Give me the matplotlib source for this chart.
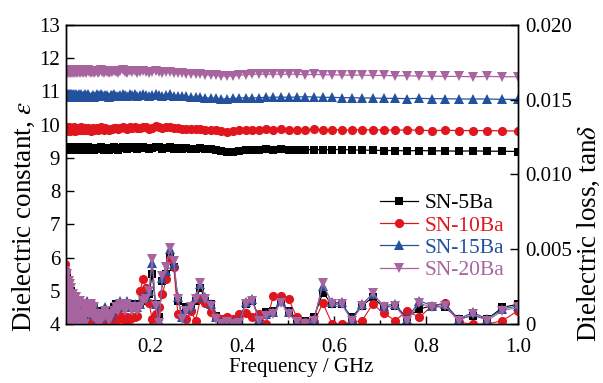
import numpy as np
import matplotlib
matplotlib.use("Agg")
import matplotlib.pyplot as plt
from matplotlib.ticker import MultipleLocator, FixedLocator

plt.rcParams['font.family'] = ['Liberation Serif', 'DejaVu Serif']
plt.rcParams['mathtext.fontset'] = 'stix'

# Frequency sweep (GHz): 201-point logarithmic sweep 1 MHz - 1 GHz, visible part
freq = np.logspace(-3, 0, 201)[78:]

labels = ['SN-5Ba', 'SN-10Ba', 'SN-15Ba', 'SN-20Ba']
colors = ['#000000', '#e0161e', '#23519e', '#a8649e']
markers = ['s', 'o', '^', 'v']

# Dielectric constant (left axis)
eps_5 = [9.31, 9.25, 9.34, 9.27, 9.32, 9.24, 9.29, 9.34, 9.26, 9.30,
         9.33, 9.25, 9.29, 9.34, 9.27, 9.24, 9.32, 9.29, 9.25, 9.33,
         9.27, 9.32, 9.25, 9.30, 9.34, 9.27, 9.24, 9.30, 9.33, 9.26,
         9.30, 9.27, 9.33, 9.25, 9.29, 9.34, 9.27, 9.25, 9.30, 9.32,
         9.27, 9.25, 9.30, 9.33, 9.27, 9.24, 9.28, 9.31, 9.25, 9.28,
         9.31, 9.26, 9.28, 9.33, 9.28, 9.25, 9.30, 9.28, 9.24, 9.29,
         9.30, 9.33, 9.27, 9.25, 9.30, 9.34, 9.29, 9.27, 9.32, 9.29,
         9.32, 9.27, 9.29, 9.34, 9.31, 9.27, 9.29, 9.32, 9.33, 9.28,
         9.31, 9.33, 9.28, 9.30, 9.27, 9.29, 9.26, 9.28, 9.29, 9.26,
         9.26, 9.24, 9.20, 9.18, 9.17, 9.21, 9.24, 9.24, 9.25, 9.26,
         9.25, 9.26, 9.25, 9.24, 9.25, 9.25, 9.24, 9.25, 9.25, 9.24,
         9.23, 9.23, 9.22, 9.22, 9.21, 9.22, 9.21, 9.21, 9.20, 9.21,
         9.20, 9.20, 9.19]
eps_10 = [9.89, 9.83, 9.92, 9.85, 9.90, 9.82, 9.88, 9.92, 9.84, 9.88,
          9.91, 9.83, 9.87, 9.92, 9.85, 9.82, 9.90, 9.87, 9.83, 9.91,
          9.85, 9.90, 9.83, 9.88, 9.92, 9.85, 9.82, 9.88, 9.91, 9.84,
          9.88, 9.85, 9.91, 9.83, 9.87, 9.92, 9.85, 9.83, 9.88, 9.90,
          9.85, 9.83, 9.88, 9.91, 9.85, 9.82, 9.86, 9.89, 9.83, 9.86,
          9.90, 9.85, 9.87, 9.92, 9.87, 9.84, 9.89, 9.87, 9.83, 9.88,
          9.88, 9.91, 9.89, 9.86, 9.90, 9.94, 9.89, 9.88, 9.93, 9.90,
          9.94, 9.90, 9.89, 9.94, 9.92, 9.88, 9.91, 9.95, 9.92, 9.90,
          9.94, 9.92, 9.90, 9.90, 9.88, 9.88, 9.86, 9.88, 9.87, 9.85,
          9.85, 9.84, 9.80, 9.79, 9.81, 9.83, 9.84, 9.83, 9.85, 9.86,
          9.85, 9.86, 9.85, 9.84, 9.85, 9.86, 9.85, 9.85, 9.84, 9.84,
          9.85, 9.84, 9.84, 9.83, 9.84, 9.83, 9.82, 9.83, 9.82, 9.82,
          9.82, 9.81, 9.81]
eps_15 = [10.90, 10.84, 10.93, 10.86, 10.91, 10.83, 10.89, 10.93, 10.85, 10.89,
          10.92, 10.84, 10.88, 10.93, 10.86, 10.83, 10.91, 10.88, 10.84, 10.92,
          10.86, 10.91, 10.84, 10.89, 10.93, 10.86, 10.83, 10.89, 10.92, 10.85,
          10.89, 10.86, 10.92, 10.84, 10.88, 10.93, 10.86, 10.84, 10.89, 10.91,
          10.86, 10.84, 10.89, 10.92, 10.86, 10.83, 10.87, 10.90, 10.84, 10.87,
          10.91, 10.86, 10.88, 10.93, 10.88, 10.85, 10.90, 10.88, 10.84, 10.89,
          10.89, 10.92, 10.87, 10.85, 10.90, 10.93, 10.88, 10.86, 10.92, 10.88,
          10.91, 10.86, 10.89, 10.93, 10.90, 10.86, 10.89, 10.92, 10.88, 10.87,
          10.90, 10.91, 10.87, 10.87, 10.85, 10.85, 10.83, 10.83, 10.82, 10.81,
          10.80, 10.79, 10.78, 10.77, 10.79, 10.80, 10.81, 10.80, 10.81, 10.82,
          10.82, 10.83, 10.82, 10.83, 10.84, 10.83, 10.82, 10.82, 10.81, 10.81,
          10.80, 10.80, 10.79, 10.79, 10.78, 10.79, 10.78, 10.78, 10.77, 10.77,
          10.77, 10.76, 10.76]
eps_20 = [11.61, 11.55, 11.64, 11.57, 11.62, 11.54, 11.60, 11.64, 11.56, 11.60,
          11.63, 11.55, 11.59, 11.64, 11.57, 11.54, 11.62, 11.59, 11.55, 11.63,
          11.57, 11.62, 11.55, 11.60, 11.64, 11.57, 11.54, 11.60, 11.63, 11.56,
          11.60, 11.57, 11.63, 11.55, 11.59, 11.64, 11.57, 11.55, 11.60, 11.62,
          11.57, 11.55, 11.60, 11.63, 11.57, 11.54, 11.58, 11.61, 11.55, 11.58,
          11.61, 11.56, 11.58, 11.63, 11.58, 11.55, 11.60, 11.58, 11.54, 11.59,
          11.59, 11.62, 11.57, 11.55, 11.60, 11.63, 11.58, 11.56, 11.61, 11.58,
          11.60, 11.55, 11.58, 11.61, 11.59, 11.55, 11.57, 11.60, 11.57, 11.55,
          11.58, 11.58, 11.55, 11.55, 11.56, 11.53, 11.53, 11.51, 11.51, 11.49,
          11.49, 11.48, 11.46, 11.45, 11.47, 11.48, 11.50, 11.51, 11.52, 11.51,
          11.52, 11.51, 11.52, 11.51, 11.50, 11.51, 11.50, 11.50, 11.49, 11.49,
          11.49, 11.48, 11.48, 11.47, 11.47, 11.46, 11.46, 11.45, 11.45, 11.44,
          11.45, 11.44, 11.44]

# Dielectric loss tan(delta), in units of 1e-3 (right axis)
tan_5 = [3.33, 2.44, 1.56, 2.89, 2.22, 0.89, 2.67, 1.56, 3.11, 1.11,
         2.00, 0.67, 2.67, 1.78, 0.44, 2.44, 1.33, 1.78, 0.22, 2.22,
         1.11, 0.89, 1.78, 0.44, 1.33, 1.11, 0.22, 1.56, 0.89, 1.11,
         0.67, 1.33, 0.22, 1.33, 0.89, 0.44, 1.11, 0.67, 1.33, 0.22,
         0.67, 1.11, 1.33, 1.33, 0.89, 1.11, 1.11, 0.67, 1.11, 0.89,
         0.44, 0.22, 0.67, 0.44, 0.89, 0.67, 0.89, 0.89, 0.44, 0.67,
         0.89, 1.11, 1.33, 1.11, 1.33, 1.33, 1.11, 1.33, 1.33, 1.11,
         1.33, 1.11, 1.33, 1.56, 1.78, 2.00, 3.33, 1.33, 0.44, 2.89,
         3.33, 4.44, 3.78, 1.56, 0.67, 1.11, 1.22, 1.56, 2.44, 1.56,
         1.33, 0.56, 0.22, 0.33, 0.22, 0.22, 1.33, 1.56, 0.44, 0.78,
         0.89, 1.44, 0.89, 0.33, 0.22, 0.44, 2.09, 1.33, 1.33, 0.44,
         1.22, 1.78, 1.11, 1.22, 0.44, 1.00, 1.22, 1.11, 0.33, 0.56,
         0.33, 1.11, 1.33]
tan_10 = [4.00, 3.33, 2.00, 3.56, 1.78, 2.44, 1.56, 2.22, 1.33, 2.00,
          1.78, 1.11, 2.00, 1.56, 1.33, 1.78, 1.11, 1.56, 0.89, 1.78,
          1.33, 1.78, 1.11, 1.56, 1.33, 0.89, 1.56, 1.11, 1.33, 0.89,
          1.11, 0.67, 0.89, 0.44, 0.67, 0.89, 0.44, 0.67, 0.22, 0.44,
          0.22, 0.44, 0.33, 0.22, 0.44, 0.33, 0.22, 0.11, 0.33, 0.22,
          0.11, 0.22, 0.00, 0.11, 0.22, 0.33, 0.22, 0.11, 0.22, 0.44,
          0.33, 0.22, 0.44, 0.33, 0.56, 0.44, 0.22, 0.44, 0.33, 0.44,
          0.44, 0.56, 2.22, 3.02, 2.44, 1.40, 0.33, 0.67, 1.11, 2.00,
          3.02, 4.36, 3.78, 0.67, 0.44, 0.33, 0.89, 0.22, 1.67, 1.40,
          0.78, 0.44, 0.33, 0.44, 0.33, 0.67, 0.73, 0.44, 0.67, 0.00,
          1.89, 1.89, 1.67, 0.44, 0.11, 0.11, 1.40, 0.00, 0.00, 0.11,
          0.22, 1.33, 0.73, 0.22, 0.89, 0.44, 1.22, 1.40, 0.11, 0.00,
          0.00, 0.22, 0.89]
tan_15 = [3.11, 2.89, 1.11, 3.33, 1.78, 0.89, 2.67, 2.00, 3.11, 1.11,
          2.00, 0.67, 2.67, 1.33, 0.44, 2.44, 1.33, 1.78, 0.22, 2.22,
          1.56, 0.44, 1.78, 0.44, 1.33, 1.11, 0.22, 1.56, 0.89, 1.11,
          0.67, 1.33, 0.22, 1.33, 0.89, 0.44, 1.11, 0.67, 1.33, 0.22,
          0.67, 1.11, 1.56, 1.33, 0.89, 1.11, 1.11, 0.67, 1.33, 0.89,
          0.44, 0.22, 0.67, 0.44, 0.89, 0.67, 1.11, 0.89, 0.44, 0.67,
          0.89, 1.11, 1.33, 1.11, 1.56, 1.33, 1.11, 1.56, 1.33, 1.11,
          1.33, 1.11, 1.33, 1.78, 1.78, 2.22, 4.11, 1.33, 0.22, 3.11,
          3.56, 5.00, 4.00, 1.78, 0.44, 1.00, 1.22, 1.78, 2.67, 1.78,
          1.33, 0.44, 0.11, 0.22, 0.11, 0.22, 1.44, 1.67, 0.33, 0.67,
          0.78, 1.56, 0.78, 0.22, 0.11, 0.33, 2.56, 1.44, 1.44, 0.33,
          1.33, 2.00, 1.22, 1.33, 0.33, 1.56, 1.22, 1.33, 0.33, 0.78,
          0.33, 1.00, 1.22]
tan_20 = [3.56, 2.67, 1.33, 3.11, 2.00, 0.67, 2.89, 1.78, 3.33, 0.89,
          2.22, 0.44, 2.89, 1.56, 0.22, 2.67, 1.11, 2.00, 0.00, 2.44,
          1.33, 0.67, 2.00, 0.22, 1.56, 0.89, 0.00, 1.78, 0.67, 1.33,
          0.44, 1.11, 0.00, 1.56, 0.67, 0.22, 1.33, 0.44, 1.11, 0.00,
          0.44, 0.89, 1.33, 1.11, 0.67, 1.33, 0.89, 0.44, 1.11, 0.67,
          0.22, 0.00, 0.44, 0.22, 0.67, 0.44, 0.89, 0.67, 0.22, 0.44,
          0.67, 0.89, 1.11, 0.89, 1.33, 1.11, 0.89, 1.33, 1.11, 0.89,
          1.11, 0.89, 1.11, 1.56, 1.67, 2.22, 4.36, 1.20, 0.07, 3.22,
          3.78, 5.11, 4.22, 1.67, 0.33, 0.89, 1.11, 1.67, 2.76, 1.67,
          1.22, 0.33, 0.00, 0.11, 0.00, 0.07, 1.33, 1.56, 0.22, 0.56,
          0.67, 1.40, 0.67, 0.11, 0.00, 0.22, 2.76, 1.33, 1.33, 0.22,
          1.20, 2.09, 1.11, 1.20, 0.22, 1.40, 1.11, 1.20, 0.22, 0.67,
          0.22, 0.89, 1.11]

eps_all = [eps_5, eps_10, eps_15, eps_20]
tan_all = [tan_5, tan_10, tan_15, tan_20]
msizes = [5.6, 6.6, 7.0, 7.0]

fig = plt.figure(figsize=(6.03, 3.83), dpi=100)
ax = fig.add_axes([0.109, 0.154, 0.750, 0.781])
ax2 = ax.twinx()

handles = []
for e, c, m, ms, lab in zip(eps_all, colors, markers, msizes, labels):
    h, = ax.plot(freq, e, color=c, marker=m, markersize=ms, lw=0.9,
                 markeredgewidth=0, label=lab)
    handles.append(h)
for t, c, m, ms in zip(tan_all, colors, markers, msizes):
    ax2.plot(freq, np.array(t) * 1e-3, color=c, marker=m, markersize=ms,
             lw=0.8, markeredgewidth=0)

ax.set_xlim(0.016, 1.0)
ax.set_ylim(4, 13)
ax2.set_ylim(0, 0.020)

ax.xaxis.set_major_locator(FixedLocator([0.2, 0.4, 0.6, 0.8, 1.0]))
ax.set_xticklabels(['0.2', '0.4', '0.6', '0.8', '1.0'])
ax.xaxis.set_minor_locator(MultipleLocator(0.1))
ax.yaxis.set_major_locator(MultipleLocator(1))
ax2.set_yticks([0, 0.005, 0.010, 0.015, 0.020])
ax2.set_yticklabels(['0', '0.005', '0.010', '0.015', '0.020'])

fs = 15
ax.tick_params(axis='x', which='major', direction='in', length=6, width=1,
               labelsize=fs, pad=10)
ax.tick_params(axis='y', which='major', direction='in', length=6, width=1,
               labelsize=fs, pad=4)
ax.tick_params(axis='x', which='minor', direction='in', length=3, width=1)
ax.tick_params(axis='y', which='both', left=True, right=False)
ax2.tick_params(axis='y', which='major', direction='in', length=6, width=1,
                labelsize=fs, pad=5)
for a in (ax, ax2):
    for s in a.spines.values():
        s.set_linewidth(1.0)

# Axis labels
ax.set_xlabel('Frequency / GHz', fontsize=fs)
ax.xaxis.set_label_coords(0.52, -0.113)

lab_fs = 19.5
ax.set_ylabel(r'Dielectric constant, $\varepsilon$', fontsize=lab_fs)
ax.yaxis.label.set_rotation_mode('default')
ax.yaxis.label.set_va('center')
ax.yaxis.label.set_ha('center')
ax.yaxis.set_label_coords((24 - 65.7) / 452.3, (323 - 215) / 299)

ax2.set_ylabel(r'Dielectric loss, tan$\delta$', fontsize=lab_fs)
ax2.yaxis.label.set_rotation_mode('default')
ax2.yaxis.label.set_va('center')
ax2.yaxis.label.set_ha('center')
ax2.yaxis.set_label_coords((589 - 65.7) / 452.3, (323 - 232) / 299)

leg = ax2.legend(handles, labels, loc='upper left',
                 bbox_to_anchor=(0.695, 0.437), frameon=False, fontsize=15.5,
                 borderpad=0, borderaxespad=0, handlelength=1.75,
                 handletextpad=0.3, labelspacing=0.1)
for txt, c in zip(leg.get_texts(), colors):
    txt.set_color(c)

fig.savefig('out.png', dpi=100)
